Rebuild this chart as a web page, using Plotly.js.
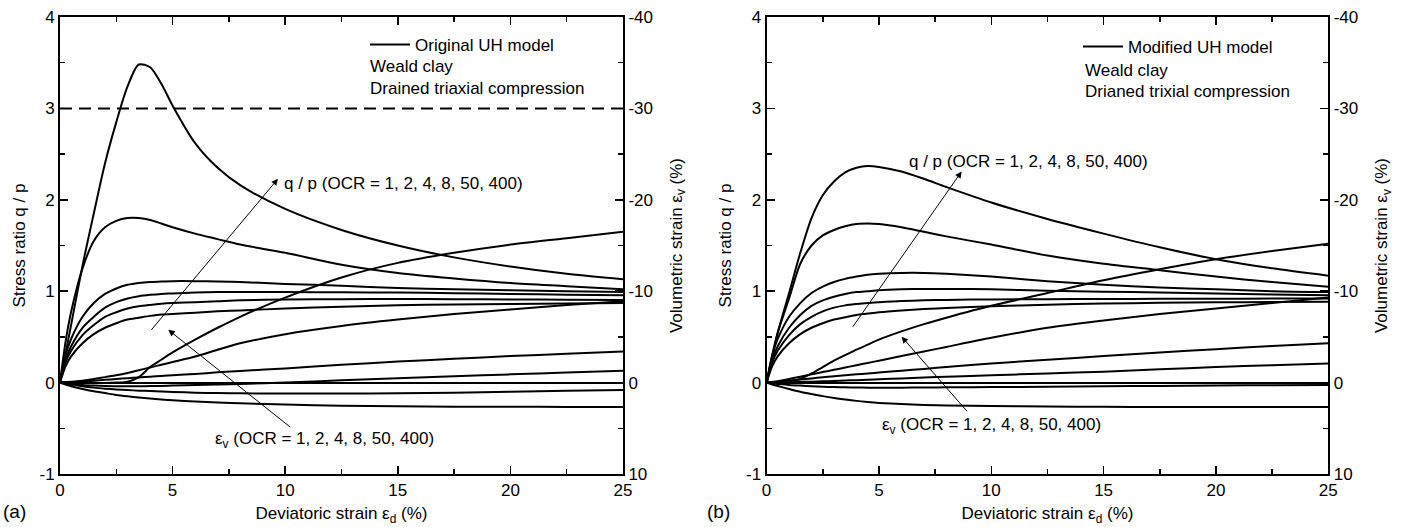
<!DOCTYPE html>
<html>
<head>
<meta charset="utf-8">
<script src="https://cdn.plot.ly/plotly-3.0.1.min.js"></script>
<style>html,body{margin:0;padding:0;background:#fff}#chart{width:1403px;height:527px}</style>
</head>
<body>
<div id="chart"></div>
<script>
// Deviatoric strain samples (%)
const strain = [0,0.25,0.5,1,1.5,2,2.5,3,3.5,4,4.5,5,6,7,8,10,12.5,15,17.5,20,22.5,25];
const ocrLabels = ['1','2','4','8','50','400'];

// (a) Original UH model: stress ratio q/p
const aQp1   = [0,.18,.29,.43,.53,.60,.65,.69,.71,.73,.745,.75,.765,.78,.79,.81,.83,.845,.855,.86,.865,.87];
const aQp2   = [0,.22,.35,.52,.63,.72,.77,.81,.835,.85,.862,.87,.88,.89,.90,.91,.913,.915,.913,.91,.907,.905];
const aQp4   = [0,.25,.40,.60,.72,.82,.88,.92,.945,.96,.97,.975,.985,.99,.99,.99,.988,.985,.978,.97,.962,.955];
const aQp8   = [0,.30,.48,.72,.87,.97,1.03,1.07,1.09,1.10,1.105,1.11,1.11,1.105,1.10,1.08,1.06,1.035,1.02,1.01,1.0,.99];
const aQp50  = [0,.45,.78,1.25,1.55,1.70,1.77,1.80,1.80,1.78,1.74,1.70,1.63,1.57,1.51,1.42,1.29,1.20,1.14,1.09,1.055,1.02];
const aQp400 = [0,.32,.64,1.28,1.85,2.40,2.85,3.24,3.48,3.45,3.27,3.03,2.62,2.35,2.16,1.90,1.67,1.50,1.37,1.27,1.19,1.13];
// (a) volumetric strain (%)
const aEv1   = [0,.2,.4,.7,.95,1.15,1.35,1.5,1.63,1.75,1.85,1.93,2.07,2.17,2.26,2.4,2.52,2.6,2.63,2.65,2.66,2.67];
const aEv2   = [0,.1,.2,.4,.55,.66,.75,.82,.88,.93,.98,1.02,1.1,1.15,1.17,1.2,1.2,1.16,1.1,1.0,.9,.8];
const aEv4   = [0,.08,.15,.25,.32,.37,.39,.4,.4,.38,.36,.33,.27,.21,.15,0,-.25,-.48,-.7,-.9,-1.1,-1.3];
const aEv8   = [0,-.02,-.05,-.12,-.2,-.3,-.4,-.48,-.57,-.65,-.73,-.8,-.95,-1.12,-1.28,-1.55,-1.95,-2.3,-2.6,-2.9,-3.15,-3.4];
const aEv50  = [0,-.04,-.08,-.2,-.4,-.6,-.8,-1.05,-1.35,-1.65,-1.95,-2.25,-2.85,-3.6,-4.3,-5.3,-6.2,-6.9,-7.5,-8.0,-8.5,-8.9];
const aEv400 = [0,0,.03,.05,.05,.04,0,-.1,-.6,-1.7,-2.5,-3.3,-4.7,-6.0,-7.2,-9.3,-11.5,-13.1,-14.2,-15.1,-15.8,-16.5];
// (a) critical-state line q/p
const aMcs = 3;

// (b) Modified UH model: stress ratio q/p
const bQp1   = [0,.18,.29,.43,.53,.60,.65,.69,.715,.74,.755,.77,.79,.805,.815,.835,.853,.865,.873,.878,.882,.885];
const bQp2   = [0,.22,.35,.52,.64,.72,.78,.82,.845,.86,.872,.88,.893,.90,.905,.91,.913,.915,.917,.918,.919,.92];
const bQp4   = [0,.25,.40,.60,.74,.84,.90,.94,.97,.99,1.0,1.01,1.02,1.025,1.025,1.02,1.005,.995,.985,.975,.965,.955];
const bQp8   = [0,.30,.48,.72,.87,.98,1.05,1.10,1.135,1.16,1.18,1.19,1.20,1.20,1.19,1.16,1.11,1.07,1.04,1.02,1.0,.99];
const bQp50  = [0,.30,.55,.92,1.30,1.50,1.61,1.67,1.71,1.735,1.74,1.735,1.70,1.65,1.60,1.51,1.39,1.30,1.23,1.16,1.10,1.05];
const bQp400 = [0,.28,.55,.98,1.42,1.80,2.05,2.20,2.30,2.35,2.37,2.36,2.31,2.23,2.14,1.97,1.79,1.63,1.48,1.35,1.25,1.17];
// (b) volumetric strain (%)
const bEv1   = [0,.2,.38,.7,1.0,1.25,1.48,1.68,1.85,2.0,2.12,2.22,2.35,2.44,2.5,2.57,2.62,2.65,2.66,2.67,2.68,2.68];
const bEv2   = [0,.08,.14,.25,.33,.4,.45,.49,.52,.54,.55,.55,.55,.54,.52,.49,.45,.4,.36,.32,.28,.25];
const bEv4   = [0,0,-.01,-.03,-.06,-.1,-.14,-.18,-.22,-.27,-.32,-.37,-.46,-.55,-.64,-.8,-1.0,-1.2,-1.45,-1.7,-1.9,-2.1];
const bEv8   = [0,-.05,-.1,-.22,-.34,-.46,-.58,-.7,-.8,-.9,-1.0,-1.1,-1.3,-1.5,-1.7,-2.1,-2.5,-2.9,-3.3,-3.65,-4.0,-4.3];
const bEv50  = [0,-.07,-.15,-.4,-.65,-.9,-1.15,-1.4,-1.65,-1.9,-2.15,-2.4,-2.9,-3.4,-3.9,-4.9,-6.0,-6.8,-7.5,-8.1,-8.7,-9.3];
const bEv400 = [0,0,-.03,-.1,-.4,-1.0,-1.7,-2.4,-3.0,-3.6,-4.15,-4.7,-5.6,-6.4,-7.1,-8.4,-9.8,-11.2,-12.4,-13.5,-14.4,-15.2];

// tick labels
const xTicks = [0,5,10,15,20,25];
const xTickText = ['0','5','10','15','20','25'];
const qpTicks = [-1,0,1,2,3,4];
const qpTickText = ['-1','0','1','2','3','4'];
const evTicks = [-40,-30,-20,-10,0,10];
const evTickText = ['-40','-30','-20','-10','0','10'];

const FONT = 'Liberation Sans, Arial, Helvetica, sans-serif';
const FS = 17;
const W = 1403, H = 527;
const LINE = {color:'#000', width:2, shape:'spline', smoothing:0.8};

function curve(y, xa, ya, name, extra) {
  return Object.assign({type:'scatter', mode:'lines', x:strain, y:y, xaxis:xa, yaxis:ya,
    line:LINE, name:name, showlegend:false, hoverinfo:'skip'}, extra||{});
}

const traces = [];
const aQp = [aQp1,aQp2,aQp4,aQp8,aQp50,aQp400];
const aEv = [aEv1,aEv2,aEv4,aEv8,aEv50,aEv400];
const bQp = [bQp1,bQp2,bQp4,bQp8,bQp50,bQp400];
const bEv = [bEv1,bEv2,bEv4,bEv8,bEv50,bEv400];
aQp.forEach((s,i)=>traces.push(curve(s,'x','y', i===0?'Original UH model':'q/p OCR='+ocrLabels[i],
  i===0?{showlegend:true, legend:'legend'}:{})));
aEv.forEach((s,i)=>traces.push(curve(s,'x','y2','εv OCR='+ocrLabels[i])));
bQp.forEach((s,i)=>traces.push(curve(s,'x2','y3', i===0?'Modified UH model':'q/p OCR='+ocrLabels[i],
  i===0?{showlegend:true, legend:'legend2'}:{})));
bEv.forEach((s,i)=>traces.push(curve(s,'x2','y4','εv OCR='+ocrLabels[i])));
// critical state line (dashed)
traces.push({type:'scatter', mode:'lines', x:[strain[0], strain[strain.length-1]], y:[aMcs,aMcs],
  xaxis:'x', yaxis:'y', line:{color:'#000', width:2, dash:'12px,7px'}, showlegend:false, hoverinfo:'skip'});

const tickStyle = {ticks:'inside', ticklen:8, tickwidth:1.5, tickcolor:'#000',
  showline:true, linewidth:2, linecolor:'#000', showgrid:false,
  tickfont:{family:FONT, size:FS, color:'#000'}};
const minorStyle = (d)=>({ticks:'inside', ticklen:5, tickwidth:1.5, tickcolor:'#000', dtick:d, tick0:0, showgrid:false});

function xAxis(domain, anchor) {
  return Object.assign({}, tickStyle, {domain:domain, anchor:anchor, range:[0,25],
    tickmode:'array', tickvals:xTicks, ticktext:xTickText, mirror:'ticks', zeroline:false,
    minor:minorStyle(2.5),
    title:{text:'Deviatoric strain ε<sub>d</sub> (%)', font:{family:FONT,size:FS,color:'#000'}, standoff:8}});
}
function qpAxis(anchor) {
  return Object.assign({}, tickStyle, {domain:[1-474/H, 1-17/H], anchor:anchor, range:[-1,4],
    tickmode:'array', tickvals:qpTicks, ticktext:qpTickText, zeroline:true, zerolinecolor:'#000', zerolinewidth:2,
    minor:minorStyle(0.5),
    title:{text:'Stress ratio q / p', font:{family:FONT,size:FS,color:'#000'}, standoff:10}});
}
function evAxis(over, anchor) {
  return Object.assign({}, tickStyle, {overlaying:over, anchor:anchor, side:'right', range:[10,-40],
    tickmode:'array', tickvals:evTicks, ticktext:evTickText, zeroline:false,
    minor:minorStyle(5),
    title:{text:'Volumetric strain ε<sub>v</sub> (%)', font:{family:FONT,size:FS,color:'#000'}, standoff:18}});
}

const txt = (text, x, y, xref, yref, extra) => Object.assign({text:text, x:x, y:y, xref:xref, yref:yref,
  showarrow:false, xanchor:'left', yanchor:'middle', font:{family:FONT,size:FS,color:'#000'}}, extra||{});
const arrow = (x, y, ax, ay, xref, yref) => ({text:'', x:x, y:y, ax:ax, ay:ay, xref:xref, yref:yref,
  axref:xref, ayref:yref, showarrow:true, arrowhead:2, arrowsize:1.3, arrowwidth:1, arrowcolor:'#000'});

const annotations = [
  txt('q / p (OCR = 1, 2, 4, 8, 50, 400)', 9.86, 2.18, 'x', 'y'),
  arrow(9.68, 2.23, 4.0, 0.56, 'x', 'y'),
  txt('ε<sub>v</sub> (OCR = 1, 2, 4, 8, 50, 400)', 6.79, -0.63, 'x', 'y'),
  arrow(4.81, 0.577, 10.29, -0.5, 'x', 'y'),
  txt('Weald clay', 13.68, 3.454, 'x', 'y'),
  txt('Drained triaxial compression', 13.68, 3.213, 'x', 'y'),
  txt('q / p (OCR = 1, 2, 4, 8, 50, 400)', 6.23, 2.42, 'x2', 'y3'),
  arrow(8.68, 2.31, 3.79, 0.595, 'x2', 'y3'),
  txt('ε<sub>v</sub> (OCR = 1, 2, 4, 8, 50, 400)', 5.04, -0.48, 'x2', 'y3'),
  arrow(6.01, 0.503, 8.98, -0.33, 'x2', 'y3'),
  txt('Weald clay', 14.08, 3.42, 'x2', 'y3'),
  txt('Drianed trixial compression', 14.08, 3.18, 'x2', 'y3'),
  txt('(a)', 1/W, 1-511/H, 'paper', 'paper', {font:{family:FONT,size:19,color:'#000'}}),
  txt('(b)', 705/W, 1-511/H, 'paper', 'paper', {font:{family:FONT,size:19,color:'#000'}})
];

const legendStyle = {bgcolor:'rgba(0,0,0,0)', borderwidth:0, font:{family:FONT,size:FS,color:'#000'},
  xanchor:'left', yanchor:'middle', itemwidth:40, tracegroupgap:0};

const layout = {
  width:W, height:H, margin:{l:0,r:0,t:0,b:0}, paper_bgcolor:'#fff', plot_bgcolor:'#fff',
  font:{family:FONT, size:FS, color:'#000'},
  xaxis: xAxis([60/W, 623/W], 'y'),
  yaxis: qpAxis('x'),
  yaxis2: evAxis('y','x'),
  xaxis2: xAxis([766.6/W, 1328.3/W], 'y3'),
  yaxis3: qpAxis('x2'),
  yaxis4: evAxis('y3','x2'),
  legend: Object.assign({}, legendStyle, {x:365/W, y:1-45/H}),
  legend2: Object.assign({}, legendStyle, {x:1078/W, y:1-47/H}),
  annotations: annotations
};

Plotly.newPlot('chart', traces, layout, {staticPlot:true, displayModeBar:false});
</script>
</body>
</html>
